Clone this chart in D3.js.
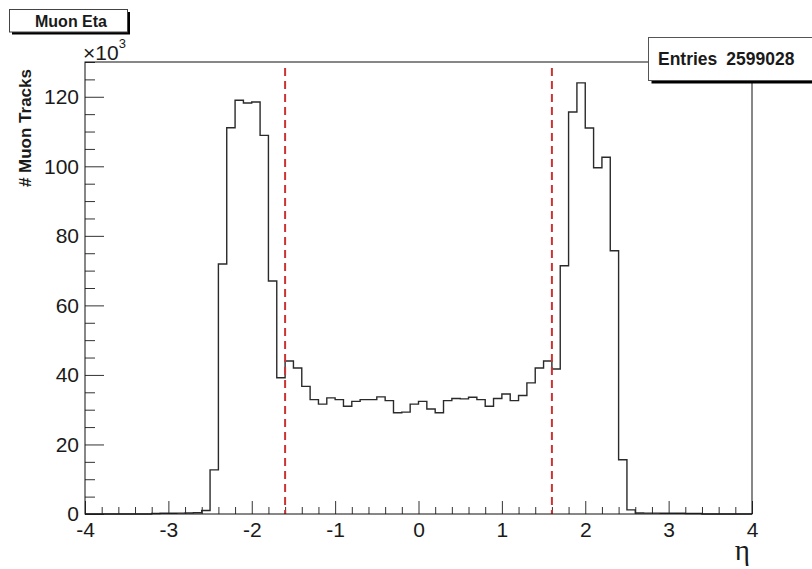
<!DOCTYPE html>
<html>
<head>
<meta charset="utf-8">
<script src="https://cdn.jsdelivr.net/npm/d3@7"></script>
<style>
  html, body { margin: 0; padding: 0; background: #fff; }
  svg { display: block; }
  text { font-family: "Liberation Sans", Arial, sans-serif; fill: #1a1a1a; }
</style>
</head>
<body>
<svg id="chart" width="812" height="569"></svg>
<script>
// ---- data (counts in thousands, bin width 0.1 from -4 to 4) ----
const binStart = -4;
const binWidth = 0.1;
const counts = [
  0, 0, 0, 0, 0, 0, 0, 0,                 // -4.0 .. -3.3
  0.15, 0.2, 0.2, 0.25, 0.3, 0.35,        // -3.2 .. -2.7
  1.0, 12.7, 71.9, 111.1, 119.0, 118.2, 118.5, 108.9, 67.0, 39.2, // -2.6 .. -1.7
  44.0, 42.0, 36.7, 32.9, 31.6, 33.4, 32.9, 31.0, 32.4, 32.9,     // -1.6 .. -0.7
  32.9, 33.7, 32.6, 29.1, 29.3, 31.6,                             // -0.6 .. -0.1
  32.4, 30.2, 29.1, 32.6, 33.2, 33.1, 33.6, 32.9, 31.0, 33.2,     // 0.0 .. 0.9
  34.5, 32.6, 34.1, 37.7, 42.0, 44.0,                             // 1.0 .. 1.5
  41.7, 71.4, 115.6, 124.0, 111.0, 99.6, 102.6, 75.7, 15.6, 1.2,  // 1.6 .. 2.5
  0.3, 0.25, 0.25, 0.2, 0.2, 0.2, 0.15, 0.15,                     // 2.6 .. 3.3
  0, 0, 0, 0, 0, 0                                                // 3.4 .. 3.9
];
const cutLines = [-1.6, 1.6];
const xMajorTicks = [-4, -3, -2, -1, 0, 1, 2, 3, 4];
const yMajorTicks = [0, 20, 40, 60, 80, 100, 120];
const xDomain = [-4, 4];
const yDomain = [0, 130];
const titleText = "Muon Eta";
const statsLabel = "Entries";
const statsValue = "2599028";
const yTitle = "# Muon Tracks";
const xTitle = "\u03B7";

// ---- layout ----
const svg = d3.select("#chart");
const L = 85, R = 752, T = 62, B = 514;

const x = d3.scaleLinear().domain(xDomain).range([L, R]);
const y = d3.scaleLinear().domain(yDomain).range([B, T]);
const fmt = d => String(d); // plain hyphen-minus as in the reference

// minor ticks
const xMinor = d3.range(-4, 4.0001, 0.2).map(v => +v.toFixed(2)).filter(v => !xMajorTicks.some(m => Math.abs(m - v) < 1e-6));
const yMinor = d3.range(0, 130.0001, 5).filter(v => v % 20 !== 0);

// Y axis
const gy = svg.append("g").attr("transform", `translate(${L},0)`);
gy.call(d3.axisLeft(y).tickValues(yMajorTicks).tickSize(-19).tickPadding(6).tickFormat(fmt));
gy.select(".domain").remove();
gy.selectAll(".tick line").attr("stroke", "#333");
gy.selectAll(".tick text").attr("font-size", 21).attr("fill", "#1a1a1a")
  .style("font-family", '"Liberation Sans", Arial, sans-serif');

const gyMinor = svg.append("g").attr("transform", `translate(${L},0)`);
gyMinor.call(d3.axisLeft(y).tickValues(yMinor).tickSize(-10).tickFormat(""));
gyMinor.select(".domain").remove();
gyMinor.selectAll(".tick line").attr("stroke", "#333");

// X axis
const gx = svg.append("g").attr("transform", `translate(0,${B})`);
gx.call(d3.axisBottom(x).tickValues(xMajorTicks).tickSize(-13).tickPadding(8).tickFormat(fmt));
gx.select(".domain").remove();
gx.selectAll(".tick line").attr("stroke", "#333");
gx.selectAll(".tick text").attr("font-size", 21).attr("fill", "#1a1a1a")
  .style("font-family", '"Liberation Sans", Arial, sans-serif');

const gxMinor = svg.append("g").attr("transform", `translate(0,${B})`);
gxMinor.call(d3.axisBottom(x).tickValues(xMinor).tickSize(-7).tickFormat(""));
gxMinor.select(".domain").remove();
gxMinor.selectAll(".tick line").attr("stroke", "#333");

// histogram (step)
const pts = counts.map((c, i) => [binStart + i * binWidth, c]);
pts.push([binStart + counts.length * binWidth, counts[counts.length - 1]]);
const line = d3.line().x(d => x(d[0])).y(d => y(d[1])).curve(d3.curveStepAfter);
svg.append("path")
  .attr("d", line(pts))
  .attr("fill", "none")
  .attr("stroke", "#2a2a2a")
  .attr("stroke-width", 1.4);

// cut lines
svg.selectAll("line.cut").data(cutLines).enter().append("line")
  .attr("class", "cut")
  .attr("x1", d => x(d)).attr("x2", d => x(d))
  .attr("y1", y(yDomain[1]) + 6).attr("y2", B)
  .attr("stroke", "#cc3333")
  .attr("stroke-width", 2)
  .attr("stroke-dasharray", "8,5");

// frame
svg.append("rect")
  .attr("x", L).attr("y", T).attr("width", R - L).attr("height", B - T)
  .attr("fill", "none").attr("stroke", "#111").attr("stroke-width", 1);

// x10^3 label
const mult = svg.append("text").attr("x", 83).attr("y", 60).attr("font-size", 21).attr("fill", "#444");
mult.append("tspan").text("\u00D710");
mult.append("tspan").attr("font-size", 13).attr("dy", -12).text("3");

// axis titles
svg.append("text")
  .attr("transform", "translate(31,69) rotate(-90)")
  .attr("text-anchor", "end")
  .attr("font-size", 17)
  .attr("font-weight", "bold")
  .text(yTitle);

svg.append("text")
  .attr("x", 750).attr("y", 560)
  .attr("text-anchor", "end")
  .attr("font-size", 29)
  .style("font-family", '"Liberation Serif", "DejaVu Serif", serif')
  .text(xTitle);

// title box
svg.append("rect").attr("x", 12).attr("y", 12).attr("width", 118).attr("height", 22.5).attr("fill", "#000");
svg.append("rect").attr("x", 9.5).attr("y", 9.5).attr("width", 118).attr("height", 22.5)
  .attr("fill", "#fff").attr("stroke", "#444").attr("stroke-width", 1);
svg.append("text").attr("x", 71).attr("y", 27).attr("text-anchor", "middle")
  .attr("font-size", 16).attr("font-weight", "bold").text(titleText);

// stats box
svg.append("rect").attr("x", 651.5).attr("y", 40).attr("width", 170).attr("height", 43.5).attr("fill", "#000");
svg.append("rect").attr("x", 648.5).attr("y", 37.5).attr("width", 170).attr("height", 43)
  .attr("fill", "#fff").attr("stroke", "#555").attr("stroke-width", 1);
const st = svg.append("text").attr("x", 658).attr("y", 65).attr("font-size", 17.5).attr("font-weight", "bold");
st.append("tspan").text(statsLabel);
st.append("tspan").attr("dx", 9).text(statsValue);
</script>
</body>
</html>
